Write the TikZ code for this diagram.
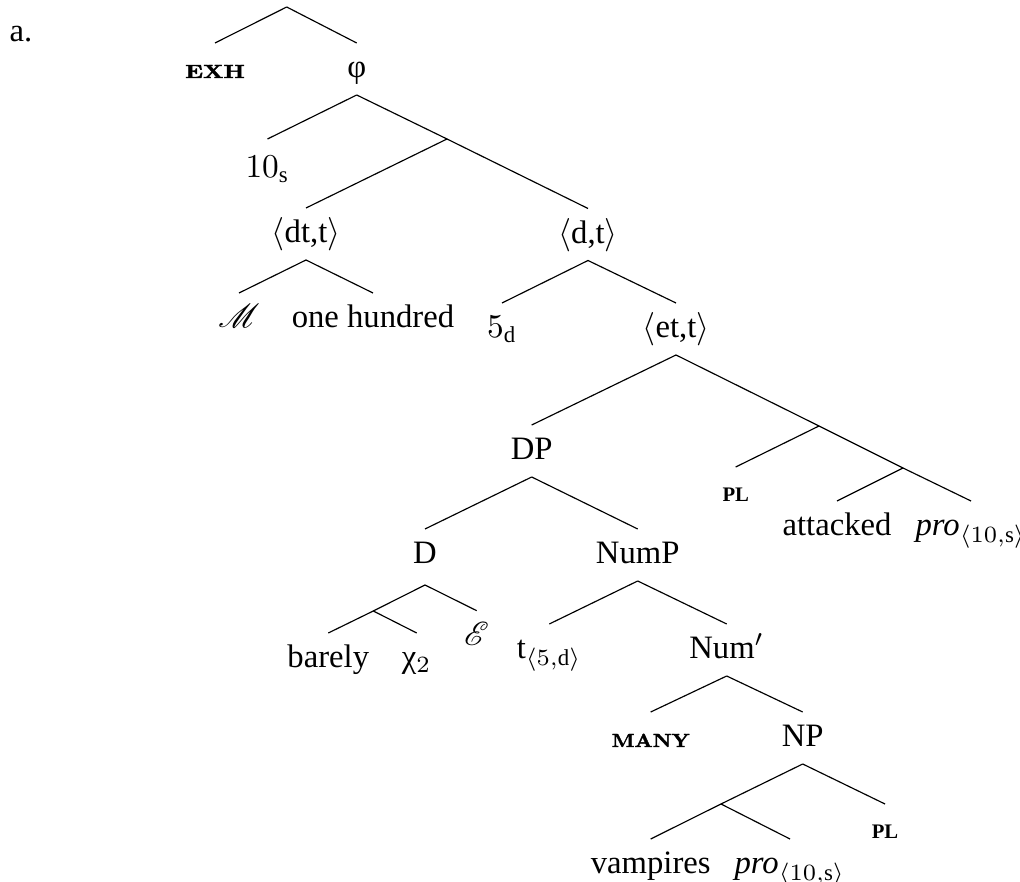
\documentclass[tikz,border=0pt]{standalone}
\usepackage{fontspec}
\usepackage{graphicx}
\usepackage{mathrsfs}
\setmainfont{Liberation Serif}
\newfontfamily\lmbx{lmroman10-bold.otf}[FakeBold=2]
\newcommand\scbold[2]{\scalebox{#1}[1]{\lmbx\fontsize{5.7pt}{6pt}\selectfont #2}}
\newcommand\plsc{{\fontsize{6.2pt}{7pt}\selectfont\bfseries PL}}
\begin{document}
\begin{tikzpicture}[x=0.3pt,y=-0.3pt,
  tn/.style={inner sep=0pt,outer sep=0pt,text height=10.5pt,text depth=5.1pt,anchor=north,font=\fontsize{9.8pt}{11.5pt}\selectfont},
  br/.style={line width=0.35pt}]
\useasboundingbox (0,0) rectangle (1020,882);
\node[anchor=base west,inner sep=0pt,font=\fontsize{9.8pt}{11.5pt}\selectfont] (lab) at (9,41.7) {a.};
% junctions
\coordinate (R) at (286.7,7);
\coordinate (X) at (447,139);
\coordinate (Y) at (819,426);
\coordinate (Z) at (903,468);
\coordinate (W) at (373.3,611);
\coordinate (V) at (721,804);
% nodes
\node[tn] (exh) at (215,43) {\scbold{1.24}{EXH}};
\node[tn] (phi) at (356.7,43) {φ};
\node[tn,text height=11.7pt] (ten) at (267.5,139) {$10_{\mathrm{s}}$};
\node[tn] (dtt) at (306,208) {$\langle$dt,t$\rangle$};
\node[tn] (dt) at (588,208.5) {$\langle$d,t$\rangle$};
\node[tn] (M) at (239,293) {$\mathscr{M}$};
\node[tn] (oneh) at (373,293) {one hundred};
\node[tn] (five) at (502,303) {$5_{\mathrm{d}}$};
\node[tn] (ett) at (676,303) {$\langle$et,t$\rangle$};
\node[tn] (DP) at (531.7,425) {DP};
\node[tn] (PLa) at (735.7,467) {\plsc};
\node[tn] (att) at (837,501) {attacked};
\node[tn] (proa) at (971,501) {\textit{pro}$_{\langle 10,\mathrm{s}\rangle}$};
\node[tn,text depth=6.3pt] (D) at (425,529) {D};
\node[tn] (NumP) at (637.7,529) {NumP};
\node[tn] (barely) at (328.3,633) {barely};
\node[tn] (chi) at (416.7,633) {χ$_2$};
\node[tn] (E) at (476.7,610.7) {$\mathscr{E}$};
\node[tn] (t) at (549.3,624) {t$_{\langle 5,\mathrm{d}\rangle}$};
\node[tn] (Num) at (726.7,624) {Num$'$};
\node[tn] (many) at (650.7,712) {\scbold{1.1}{MANY}};
\node[tn] (NP) at (802.7,712) {NP};
\node[tn] (PLb) at (885,804) {\plsc};
\node[tn] (vamp) at (650.7,839) {vampires};
\node[tn] (prob) at (790,839) {\textit{pro}$_{\langle 10,\mathrm{s}\rangle}$};
% branches
\draw[br] (R) -- (exh.north);
\draw[br] (R) -- (phi.north);
\draw[br] (phi.south) -- (ten.north);
\draw[br] (phi.south) -- (X);
\draw[br] (X) -- (dtt.north);
\draw[br] (X) -- (dt.north);
\draw[br] (dtt.south) -- (M.north);
\draw[br] (dtt.south) -- (oneh.north);
\draw[br] (dt.south) -- (five.north);
\draw[br] (dt.south) -- (ett.north);
\draw[br] (ett.south) -- (DP.north);
\draw[br] (ett.south) -- (Y);
\draw[br] (Y) -- (PLa.north);
\draw[br] (Y) -- (Z);
\draw[br] (Z) -- (att.north);
\draw[br] (Z) -- (proa.north);
\draw[br] (DP.south) -- (D.north);
\draw[br] (DP.south) -- (NumP.north);
\draw[br] (D.south) -- (W);
\draw[br] (D.south) -- (E.north);
\draw[br] (W) -- (barely.north);
\draw[br] (W) -- (chi.north);
\draw[br] (NumP.south) -- (t.north);
\draw[br] (NumP.south) -- (Num.north);
\draw[br] (Num.south) -- (many.north);
\draw[br] (Num.south) -- (NP.north);
\draw[br] (NP.south) -- (V);
\draw[br] (NP.south) -- (PLb.north);
\draw[br] (V) -- (vamp.north);
\draw[br] (V) -- (prob.north);
\end{tikzpicture}
\end{document}
